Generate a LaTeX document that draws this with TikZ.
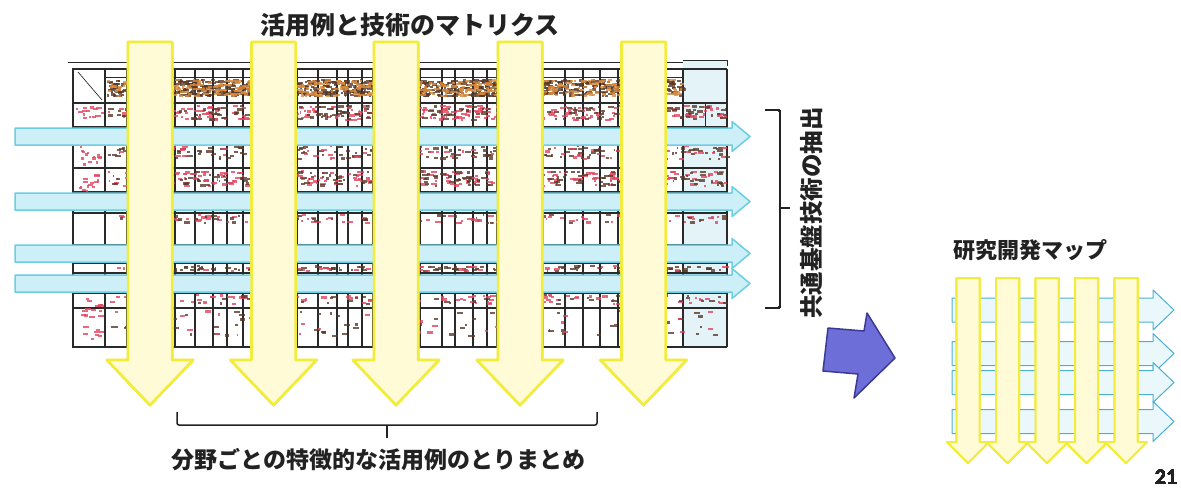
\documentclass[tikz,border=0pt]{standalone}
\usepackage{fontspec}
\newfontfamily\jp{Noto Sans CJK JP}
\newfontfamily\numfont{Carlito}
\definecolor{ycream}{HTML}{FFFBD6}
\definecolor{yedge}{HTML}{F2EC3C}
\definecolor{bfill}{HTML}{CDEFF8}
\definecolor{bedge}{HTML}{6DCDE2}
\definecolor{mfill}{HTML}{EAF8FC}
\definecolor{medge}{HTML}{4DB0D2}
\definecolor{pfill}{HTML}{6E6ED8}
\definecolor{pedge}{HTML}{3A3A96}
\definecolor{tline}{HTML}{2A2A2A}
\definecolor{txt}{HTML}{222222}
\definecolor{sdark}{HTML}{5A3A28}
\definecolor{sorange}{HTML}{D88A3E}
\definecolor{sred}{HTML}{E2445E}
\definecolor{lastcol}{HTML}{E3F3F8}
\newcommand\scrib[6]{%
  \foreach \k in {1,...,#5}{%
    \pgfmathsetmacro\scX{#1+rnd*(#3-#1)}%
    \pgfmathsetmacro\scY{#2+rnd*(#4-#2)}%
    \pgfmathsetmacro\scW{1.5+rnd*5}%
    \fill[#6,fill opacity=0.8] (\scX,\scY) rectangle ++(\scW,2.2);
  }}
\newcommand\yarrow[7]{% cx, top, headstart, tip, shaft half, head half, line width
  \draw[yarr,line width=#7] ({#1-#5},#2) -- ({#1+#5},#2) -- ({#1+#5},#3) -- ({#1+#6},#3)
    -- (#1,#4) -- ({#1-#6},#3) -- ({#1-#5},#3) -- cycle;}
\newcommand\barrow[9]{% x left, x head, x tip, cy, shaft half, head half, fill, edge, width
  \draw[fill=#7,draw=#8,line width=#9,line join=round] (#1,{#4-#5}) -- (#2,{#4-#5}) -- (#2,{#4-#6}) -- (#3,#4)
    -- (#2,{#4+#6}) -- (#2,{#4+#5}) -- (#1,{#4+#5}) -- cycle;}
\tikzset{
  yarr/.style={fill=ycream,draw=yedge,line join=round},
  tab/.style={draw=tline,line width=1.4pt},
  thin tab/.style={draw=tline,line width=0.7pt},
  brace/.style={draw=txt,line width=1.5pt,rounded corners=2pt},
  lbl/.style={text=txt,inner sep=0pt,font=\jp\bfseries\fontsize{23.5}{24}\selectfont},
}
\begin{document}
\begin{tikzpicture}[x=1pt,y=-1pt]
\useasboundingbox (0,0) rectangle (1181,488);
\fill[white] (0,0) rectangle (1181,488);
\pgfmathsetseed{7}
% ---------- matrix (table) ----------
\fill[lastcol] (683,60) rectangle (727,347);
\draw[thin tab] (683,60) -- (727,60) -- (727,66);
\draw[thin tab] (68,62) -- (683,62);
\foreach \yy in {69,103,127,143,168,192,213,245,263,273,293,308,347}
  \draw[tab] (72,\yy) -- (727,\yy);
\draw[thin tab] (105,77) -- (683,77);
\foreach \xx in {73,105,127,150,175,195,213,227,243,252,275,297,318,337,348,362,373,397,420,442,455,473,487,497,520,543,565,583,600,618,642,665,683,727}
  \draw[tab] (\xx,69) -- (\xx,347);
\draw[thin tab] (705,103) -- (705,127);
\draw[thin tab] (78,72) -- (102,100);
% scribbles (tiny table text)
\scrib{107}{79}{680}{95}{1100}{sdark}
\scrib{107}{79}{680}{95}{600}{sorange}
\scrib{107}{105}{725}{119}{330}{sred}
\scrib{107}{105}{725}{119}{200}{sdark}
\scrib{107}{145}{725}{158}{220}{sdark}
\scrib{107}{145}{725}{158}{90}{sred}
\scrib{107}{170}{725}{185}{300}{sred}
\scrib{107}{170}{725}{185}{220}{sdark}
\scrib{107}{214}{725}{222}{100}{sred}
\scrib{107}{214}{725}{222}{50}{sdark}
\scrib{107}{265}{725}{270}{130}{sdark}
\scrib{107}{265}{725}{270}{50}{sred}
\scrib{107}{294}{725}{303}{120}{sred}
\scrib{107}{294}{725}{303}{60}{sdark}
\scrib{107}{310}{725}{335}{90}{sdark}
\scrib{107}{310}{725}{335}{40}{sred}
\scrib{76}{106}{102}{124}{14}{sred}
\scrib{76}{146}{102}{165}{14}{sred}
\scrib{76}{171}{102}{190}{14}{sred}
\scrib{76}{296}{102}{340}{22}{sred}
% ---------- blue horizontal arrows ----------
\foreach \cy in {136.5,201.5,253.5,283.5}
  \barrow{15}{732}{750}{\cy}{8.5}{15}{bfill}{bedge}{1.5pt}
% ---------- yellow vertical arrows ----------
\foreach \cx in {150,273.5,396,520,643.5}
  \yarrow{\cx}{42}{360}{405}{22}{43}{2.5pt}
% ---------- braces ----------
\draw[brace] (765,110) -- (780,110) -- (780,308) -- (765,308);
\draw[brace] (780,208) -- (790,208);
\draw[brace] (177,412) -- (177,425) -- (597,425) -- (597,412);
\draw[brace] (387,425) -- (387,438);
% ---------- labels ----------
\node[lbl,font=\jp\bfseries\fontsize{25}{26}\selectfont] (title) at (410,25) {活用例と技術のマトリクス};
\node[lbl,font=\jp\bfseries\fontsize{23}{24}\selectfont] (summary) at (378.5,460) {分野ごとの特徴的な活用例のとりまとめ};
\node[lbl,rotate=90] (extract) at (812,213) {共通基盤技術の抽出};
% ---------- purple block arrow ----------
\draw[fill=pfill,draw=pedge,line width=1.5pt,line join=round]
  (828,328) -- (864,331) -- (867,313) -- (895,358) -- (854,398) -- (858,374) -- (823,371) -- cycle;
% ---------- research and development map ----------
\node[lbl,font=\jp\bfseries\fontsize{22}{23}\selectfont] (maptitle) at (1030,250) {研究開発マップ};
\foreach \cy in {310,353.5,382.5,421.5}
  \barrow{952}{1153}{1174}{\cy}{12}{20}{mfill}{medge}{1pt}
\foreach \i in {0,...,4}
  \yarrow{968+39.5*\i}{278}{442}{463}{11.5}{21}{2pt}
\node[text=txt,inner sep=0pt,font=\numfont\bfseries\fontsize{22}{23}\selectfont] (pagenum) at (1166,477) {21};
\end{tikzpicture}
\end{document}
